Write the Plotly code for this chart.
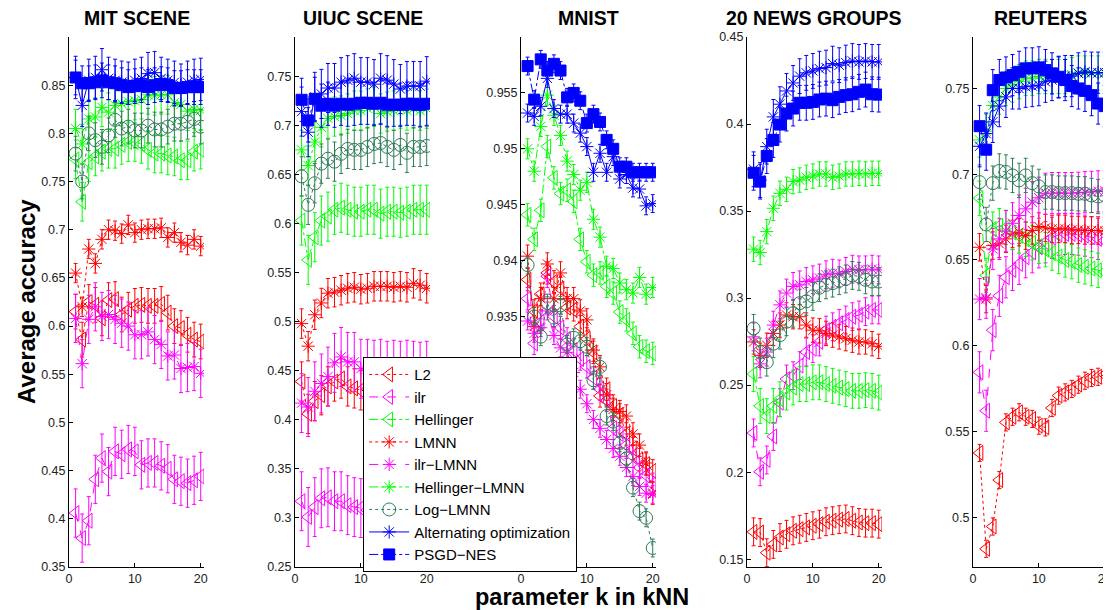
import plotly.graph_objects as go

K = [1, 2, 3, 4, 5, 6, 7, 8, 9, 10, 11, 12, 13, 14, 15, 16, 17, 18, 19, 20]

# ---------------- MIT SCENE ----------------
MIT_L2 = [0.615, 0.586, 0.625, 0.622, 0.608, 0.627, 0.628, 0.612, 0.617, 0.621, 0.622, 0.621, 0.621, 0.623, 0.614, 0.600, 0.598, 0.591, 0.586, 0.584]
MIT_ILR = [0.406, 0.380, 0.398, 0.441, 0.463, 0.449, 0.470, 0.467, 0.472, 0.470, 0.456, 0.458, 0.458, 0.455, 0.452, 0.441, 0.439, 0.437, 0.440, 0.444]
MIT_HEL = [0.773, 0.729, 0.770, 0.776, 0.781, 0.784, 0.784, 0.788, 0.791, 0.791, 0.789, 0.783, 0.779, 0.779, 0.777, 0.776, 0.772, 0.772, 0.781, 0.783]
MIT_LMNN = [0.655, 0.620, 0.680, 0.665, 0.690, 0.700, 0.699, 0.696, 0.705, 0.697, 0.700, 0.701, 0.701, 0.702, 0.692, 0.697, 0.687, 0.684, 0.690, 0.683]
MIT_ILRLMNN = [0.608, 0.561, 0.607, 0.620, 0.610, 0.612, 0.607, 0.603, 0.600, 0.591, 0.591, 0.594, 0.586, 0.581, 0.569, 0.570, 0.556, 0.557, 0.558, 0.551]
MIT_HELLMNN = [0.805, 0.789, 0.815, 0.817, 0.827, 0.822, 0.829, 0.831, 0.833, 0.834, 0.835, 0.840, 0.839, 0.840, 0.840, 0.832, 0.830, 0.823, 0.825, 0.824]
MIT_LOG = [0.779, 0.750, 0.800, 0.793, 0.786, 0.798, 0.814, 0.805, 0.807, 0.803, 0.803, 0.808, 0.804, 0.804, 0.807, 0.810, 0.810, 0.812, 0.815, 0.807]
MIT_ALT = [0.858, 0.829, 0.855, 0.858, 0.866, 0.857, 0.855, 0.853, 0.852, 0.855, 0.857, 0.862, 0.863, 0.857, 0.855, 0.853, 0.850, 0.853, 0.855, 0.856]
MIT_PSGD = [0.858, 0.852, 0.852, 0.853, 0.855, 0.853, 0.852, 0.850, 0.848, 0.849, 0.850, 0.848, 0.850, 0.851, 0.850, 0.847, 0.847, 0.848, 0.848, 0.848]
MIT_ERR = [0.018, 0.025, 0.02, 0.01, 0.025, 0.02, 0.018, 0.022, 0.018]
MIT_YTICKS = [0.35, 0.4, 0.45, 0.5, 0.55, 0.6, 0.65, 0.7, 0.75, 0.8, 0.85]
MIT_YLABELS = ["0.35", "0.4", "0.45", "0.5", "0.55", "0.6", "0.65", "0.7", "0.75", "0.8", "0.85"]
MIT_YRANGE = [0.35, 0.90]

# ---------------- UIUC SCENE ----------------
UIUC_L2 = [0.439, 0.406, 0.419, 0.425, 0.434, 0.439, 0.442, 0.434, 0.432, 0.430, 0.431, 0.433, 0.432, 0.434, 0.433, 0.432, 0.433, 0.434, 0.433, 0.434]
UIUC_ILR = [0.317, 0.301, 0.311, 0.320, 0.321, 0.317, 0.317, 0.313, 0.311, 0.310, 0.308, 0.307, 0.306, 0.306, 0.305, 0.305, 0.304, 0.304, 0.303, 0.304]
UIUC_HEL = [0.603, 0.563, 0.586, 0.603, 0.607, 0.614, 0.616, 0.614, 0.612, 0.612, 0.614, 0.614, 0.610, 0.612, 0.612, 0.611, 0.612, 0.614, 0.614, 0.614]
UIUC_LMNN = [0.498, 0.475, 0.507, 0.519, 0.529, 0.530, 0.532, 0.534, 0.535, 0.533, 0.534, 0.536, 0.536, 0.536, 0.535, 0.536, 0.535, 0.539, 0.537, 0.534]
UIUC_ILRLMNN = [0.417, 0.413, 0.429, 0.437, 0.444, 0.458, 0.464, 0.459, 0.459, 0.452, 0.452, 0.451, 0.452, 0.450, 0.451, 0.450, 0.451, 0.450, 0.449, 0.450]
UIUC_HELLMNN = [0.675, 0.659, 0.683, 0.698, 0.707, 0.709, 0.710, 0.712, 0.715, 0.715, 0.717, 0.719, 0.712, 0.714, 0.715, 0.717, 0.715, 0.717, 0.715, 0.717]
UIUC_LOG = [0.648, 0.619, 0.641, 0.661, 0.666, 0.663, 0.671, 0.676, 0.675, 0.675, 0.678, 0.681, 0.682, 0.678, 0.675, 0.680, 0.672, 0.678, 0.678, 0.679]
UIUC_ALT = [0.714, 0.693, 0.729, 0.732, 0.738, 0.738, 0.744, 0.746, 0.748, 0.744, 0.744, 0.742, 0.748, 0.746, 0.742, 0.737, 0.740, 0.740, 0.740, 0.745]
UIUC_PSGD = [0.726, 0.705, 0.727, 0.720, 0.722, 0.720, 0.722, 0.721, 0.722, 0.723, 0.723, 0.722, 0.723, 0.721, 0.721, 0.721, 0.722, 0.722, 0.721, 0.722]
UIUC_ERR = [0.02, 0.03, 0.025, 0.015, 0.03, 0.02, 0.02, 0.025, 0.022]
UIUC_YTICKS = [0.25, 0.3, 0.35, 0.4, 0.45, 0.5, 0.55, 0.6, 0.65, 0.7, 0.75]
UIUC_YLABELS = ["0.25", "0.3", "0.35", "0.4", "0.45", "0.5", "0.55", "0.6", "0.65", "0.7", "0.75"]
UIUC_YRANGE = [0.25, 0.79]

# ---------------- MNIST ----------------
MNIST_L2 = [0.9383, 0.9355, 0.9370, 0.9389, 0.9381, 0.9375, 0.9358, 0.9356, 0.9341, 0.9330, 0.9318, 0.9279, 0.9285, 0.9270, 0.9262, 0.9245, 0.9232, 0.9222, 0.9218, 0.9212]
MNIST_ILR = [0.9366, 0.9326, 0.9345, 0.9386, 0.9350, 0.9340, 0.9330, 0.9320, 0.9312, 0.9305, 0.9295, 0.9285, 0.9275, 0.9250, 0.9245, 0.9235, 0.9225, 0.9215, 0.9208, 0.9200]
MNIST_HEL = [0.9441, 0.9419, 0.9445, 0.9502, 0.9474, 0.9460, 0.9463, 0.9453, 0.9419, 0.9399, 0.9387, 0.9389, 0.9377, 0.9371, 0.9354, 0.9347, 0.9335, 0.9323, 0.9319, 0.9317]
MNIST_LMNN = [0.9404, 0.9341, 0.9366, 0.9397, 0.9366, 0.9389, 0.9366, 0.9366, 0.9355, 0.9347, 0.9320, 0.9305, 0.9280, 0.9267, 0.9265, 0.9261, 0.9245, 0.9235, 0.9219, 0.9192]
MNIST_ILRLMNN = [0.9346, 0.9335, 0.9340, 0.9355, 0.9333, 0.9322, 0.9318, 0.9300, 0.9285, 0.9272, 0.9258, 0.9250, 0.9240, 0.9232, 0.9225, 0.9215, 0.9207, 0.9198, 0.9192, 0.9191]
MNIST_HELLMNN = [0.9500, 0.9480, 0.9520, 0.9548, 0.9530, 0.9512, 0.9489, 0.9477, 0.9463, 0.9470, 0.9437, 0.9421, 0.9395, 0.9393, 0.9380, 0.9374, 0.9371, 0.9385, 0.9370, 0.9376]
MNIST_LOG = [0.9396, 0.9350, 0.9332, 0.9362, 0.9349, 0.9360, 0.9325, 0.9331, 0.9328, 0.9323, 0.9293, 0.9305, 0.9261, 0.9256, 0.9237, 0.9223, 0.9197, 0.9176, 0.9170, 0.9143]
MNIST_ALT = [0.9532, 0.9529, 0.9538, 0.9563, 0.9536, 0.9531, 0.9531, 0.9523, 0.9514, 0.9502, 0.9479, 0.9496, 0.9479, 0.9493, 0.9473, 0.9477, 0.9465, 0.9464, 0.9449, 0.9451]
MNIST_PSGD = [0.9574, 0.9544, 0.9580, 0.9570, 0.9576, 0.9570, 0.9546, 0.9550, 0.9543, 0.9523, 0.9531, 0.9524, 0.9508, 0.9500, 0.9484, 0.9484, 0.9479, 0.9479, 0.9479, 0.9479]
MNIST_ERR = [0.001, 0.001, 0.001, 0.001, 0.0008, 0.0009, 0.0008, 0.0008, 0.0008]
# lower ticks of this panel lie behind the legend in the reference, so only visible ones are listed
MNIST_YTICKS = [0.935, 0.94, 0.945, 0.95, 0.955]
MNIST_YLABELS = ["0.935", "0.94", "0.945", "0.95", "0.955"]
MNIST_YRANGE = [0.9126, 0.9600]

# ---------------- 20 NEWS GROUPS ----------------
NEWS_L2 = [0.1657, 0.1653, 0.1537, 0.1585, 0.1624, 0.1643, 0.1663, 0.1672, 0.1682, 0.1692, 0.1701, 0.1715, 0.1721, 0.1727, 0.1731, 0.1721, 0.1711, 0.1707, 0.1707, 0.1701]
NEWS_ILR = [0.2225, 0.2002, 0.2070, 0.2205, 0.2399, 0.2535, 0.2554, 0.2612, 0.2690, 0.2709, 0.2748, 0.2816, 0.2835, 0.2855, 0.2874, 0.2893, 0.2903, 0.2922, 0.2932, 0.2932]
NEWS_HEL = [0.2564, 0.2380, 0.2322, 0.2380, 0.2419, 0.2457, 0.2486, 0.2506, 0.2506, 0.2516, 0.2516, 0.2506, 0.2496, 0.2486, 0.2477, 0.2467, 0.2467, 0.2471, 0.2467, 0.2457]
NEWS_LMNN = [0.2748, 0.2671, 0.2729, 0.2797, 0.2845, 0.2903, 0.2893, 0.2893, 0.2845, 0.2816, 0.2812, 0.2797, 0.2787, 0.2777, 0.2767, 0.2758, 0.2748, 0.2748, 0.2738, 0.2723]
NEWS_ILRLMNN = [0.2777, 0.2622, 0.2690, 0.2845, 0.2961, 0.3029, 0.3067, 0.3076, 0.3095, 0.3105, 0.3115, 0.3134, 0.3143, 0.3139, 0.3153, 0.3166, 0.3162, 0.3162, 0.3166, 0.3162]
NEWS_HELLMNN = [0.3281, 0.3262, 0.3382, 0.3516, 0.3602, 0.3625, 0.3669, 0.3678, 0.3694, 0.3701, 0.3713, 0.3713, 0.3694, 0.3701, 0.3713, 0.3713, 0.3717, 0.3713, 0.3717, 0.3717]
NEWS_LOG = [0.2826, 0.2690, 0.2632, 0.2738, 0.2787, 0.2864, 0.2913, 0.2971, 0.2981, 0.3010, 0.3060, 0.3076, 0.3086, 0.3100, 0.3110, 0.3130, 0.3125, 0.3105, 0.3095, 0.3095]
NEWS_ALT = [0.3740, 0.3678, 0.3870, 0.4041, 0.4114, 0.4190, 0.4236, 0.4275, 0.4294, 0.4305, 0.4318, 0.4324, 0.4347, 0.4338, 0.4353, 0.4362, 0.4357, 0.4362, 0.4357, 0.4357]
NEWS_PSGD = [0.3720, 0.3669, 0.3816, 0.3908, 0.3997, 0.4060, 0.4089, 0.4122, 0.4122, 0.4127, 0.4141, 0.4146, 0.4137, 0.4156, 0.4166, 0.4171, 0.4185, 0.4198, 0.4171, 0.4169]
NEWS_ERR = [0.008, 0.008, 0.01, 0.007, 0.008, 0.007, 0.008, 0.01, 0.01]
NEWS_YTICKS = [0.15, 0.2, 0.25, 0.3, 0.35, 0.4, 0.45]
NEWS_YLABELS = ["0.15", "0.2", "0.25", "0.3", "0.35", "0.4", "0.45"]
NEWS_YRANGE = [0.1455, 0.45]

# ---------------- REUTERS ----------------
REU_L2 = [0.5375, 0.4816, 0.4946, 0.5217, 0.5553, 0.5586, 0.5612, 0.5586, 0.5573, 0.5534, 0.5524, 0.5637, 0.5709, 0.5728, 0.5748, 0.5773, 0.5796, 0.5812, 0.5819, 0.5831]
REU_ILR = [0.5845, 0.5621, 0.6091, 0.6291, 0.6399, 0.6442, 0.6477, 0.6516, 0.6545, 0.6574, 0.6603, 0.6629, 0.6648, 0.6652, 0.6652, 0.6648, 0.6642, 0.6633, 0.6623, 0.6613]
REU_HEL = [0.686, 0.641, 0.668, 0.670, 0.669, 0.666, 0.664, 0.662, 0.660, 0.658, 0.656, 0.654, 0.652, 0.650, 0.649, 0.647, 0.646, 0.645, 0.644, 0.643]
REU_LMNN = [0.6574, 0.6272, 0.6584, 0.6594, 0.6623, 0.6652, 0.6662, 0.6642, 0.6672, 0.6695, 0.6687, 0.6681, 0.6681, 0.6681, 0.6675, 0.6675, 0.6672, 0.6672, 0.6672, 0.6668]
REU_ILRLMNN = [0.6272, 0.6280, 0.6564, 0.6623, 0.6668, 0.6714, 0.6759, 0.6798, 0.6837, 0.6863, 0.6886, 0.6890, 0.6890, 0.6890, 0.6890, 0.6892, 0.6895, 0.6897, 0.6900, 0.6902]
REU_HELLMNN = [0.720, 0.725, 0.740, 0.745, 0.750, 0.752, 0.754, 0.756, 0.756, 0.757, 0.757, 0.757, 0.757, 0.757, 0.758, 0.759, 0.759, 0.759, 0.759, 0.759]
REU_LOG = [0.6954, 0.6707, 0.6948, 0.7019, 0.7013, 0.6993, 0.6964, 0.6993, 0.6948, 0.6929, 0.6896, 0.6896, 0.6890, 0.6890, 0.6890, 0.6886, 0.6886, 0.6876, 0.6870, 0.6876]
REU_ALT = [0.7163, 0.7237, 0.7305, 0.7397, 0.7451, 0.7500, 0.7500, 0.7510, 0.7514, 0.7519, 0.7539, 0.7549, 0.7564, 0.7572, 0.7572, 0.7588, 0.7597, 0.7592, 0.7592, 0.7592]
REU_PSGD = [0.7280, 0.7143, 0.7490, 0.7549, 0.7564, 0.7578, 0.7597, 0.7617, 0.7617, 0.7623, 0.7607, 0.7588, 0.7568, 0.7549, 0.7514, 0.7500, 0.7486, 0.7461, 0.7412, 0.7397]
REU_ERR = [0.005, 0.012, 0.01, 0.008, 0.012, 0.01, 0.01, 0.012, 0.012]
REU_YTICKS = [0.5, 0.55, 0.6, 0.65, 0.7, 0.75]
REU_YLABELS = ["0.5", "0.55", "0.6", "0.65", "0.7", "0.75"]
REU_YRANGE = [0.471, 0.78]

TITLES = ["MIT SCENE", "UIUC SCENE", "MNIST", "20 NEWS GROUPS", "REUTERS"]
NAMES = ["L2", "ilr", "Hellinger", "LMNN", "ilr\u2212LMNN", "Hellinger\u2212LMNN",
         "Log\u2212LMNN", "Alternating optimization", "PSGD\u2212NES"]
XTICKS = [0, 10, 20]
XLABELS = ["0", "10", "20"]

# styles
COLORS = ["#ff0000", "#ff00ff", "#00ff00", "#ff0000", "#ff00ff", "#00ff00",
          "#2e7d57", "#0000ff", "#0000ff"]
DASHES = ["dot", "dash", "dashdot", "dot", "dash", "dashdot", "dot", "solid", "dashdot"]
SYMBOLS = ["triangle-left-open", "triangle-left-open", "triangle-left-open",
           "asterisk", "asterisk", "asterisk", "circle-open", "asterisk", "square"]
SIZES = [13, 13, 13, 11, 11, 11, 13, 11, 11]

PANELS = [
    ([MIT_L2, MIT_ILR, MIT_HEL, MIT_LMNN, MIT_ILRLMNN, MIT_HELLMNN, MIT_LOG, MIT_ALT, MIT_PSGD],
     MIT_ERR, MIT_YRANGE, MIT_YTICKS, MIT_YLABELS),
    ([UIUC_L2, UIUC_ILR, UIUC_HEL, UIUC_LMNN, UIUC_ILRLMNN, UIUC_HELLMNN, UIUC_LOG, UIUC_ALT, UIUC_PSGD],
     UIUC_ERR, UIUC_YRANGE, UIUC_YTICKS, UIUC_YLABELS),
    ([MNIST_L2, MNIST_ILR, MNIST_HEL, MNIST_LMNN, MNIST_ILRLMNN, MNIST_HELLMNN, MNIST_LOG, MNIST_ALT, MNIST_PSGD],
     MNIST_ERR, MNIST_YRANGE, MNIST_YTICKS, MNIST_YLABELS),
    ([NEWS_L2, NEWS_ILR, NEWS_HEL, NEWS_LMNN, NEWS_ILRLMNN, NEWS_HELLMNN, NEWS_LOG, NEWS_ALT, NEWS_PSGD],
     NEWS_ERR, NEWS_YRANGE, NEWS_YTICKS, NEWS_YLABELS),
    ([REU_L2, REU_ILR, REU_HEL, REU_LMNN, REU_ILRLMNN, REU_HELLMNN, REU_LOG, REU_ALT, REU_PSGD],
     REU_ERR, REU_YRANGE, REU_YTICKS, REU_YLABELS),
]

# The page body adds an 8px margin, so the figure is placed at (8, 8) in the window.
OFF = 8
W, H = 1111 - OFF, 610 - OFF
PANEL_LEFT_PX = [69, 295, 521, 747, 973]   # window pixels
PANEL_W_PX = 135
Y_TOP_PX, Y_BOT_PX = 37, 567
FONT = "Liberation Sans, Arial, Helvetica, sans-serif"


def fx(px):
    return (px - OFF) / W


def fy(py):
    return 1 - (py - OFF) / H


fig = go.Figure()
layout = dict(
    width=W, height=H,
    margin=dict(l=0, r=0, t=0, b=0, autoexpand=False),
    paper_bgcolor="white", plot_bgcolor="white",
    font=dict(family=FONT, size=12, color="#222222"),
    showlegend=True,
    legend=dict(
        x=fx(363), y=fy(357), xanchor="left", yanchor="top",
        bgcolor="white", bordercolor="black", borderwidth=1.2,
        font=dict(family=FONT, size=15, color="black"),
        itemwidth=40, tracegroupgap=0,
    ),
    annotations=[],
)

ydom = [fy(Y_BOT_PX), fy(Y_TOP_PX)]
for p, (series, errs, yr, ytv, ytt) in enumerate(PANELS):
    ax = "" if p == 0 else str(p + 1)
    x0 = fx(PANEL_LEFT_PX[p])
    x1 = min(fx(PANEL_LEFT_PX[p] + PANEL_W_PX), 1.0)
    for s, ys in enumerate(series):
        c = COLORS[s]
        marker = dict(symbol=SYMBOLS[s], size=SIZES[s], color=c,
                      line=dict(color=c, width=1))
        fig.add_trace(go.Scatter(
            x=K, y=ys, mode="lines+markers", name=NAMES[s],
            legendgroup=NAMES[s], showlegend=(p == 0),
            line=dict(color=c, width=1, dash=DASHES[s]),
            marker=marker,
            error_y=dict(type="constant", value=errs[s], color=c, thickness=1, width=2),
            xaxis="x" + ax, yaxis="y" + ax,
        ))
    layout["xaxis" + ax] = dict(
        domain=[x0, x1], anchor="y" + ax, range=[0, 20.5], automargin=False,
        tickvals=XTICKS, ticktext=XLABELS, ticks="inside", ticklen=4,
        ticklabeloverflow="allow",
        tickcolor="black", showline=True, linecolor="black", linewidth=1,
        showgrid=False, zeroline=False, tickfont=dict(size=12.5, color="#222222"),
    )
    layout["yaxis" + ax] = dict(
        domain=ydom, anchor="x" + ax, range=yr, automargin=False,
        tickvals=ytv, ticktext=ytt, ticks="inside", ticklen=4,
        ticklabeloverflow="allow",
        tickcolor="black", showline=True, linecolor="black", linewidth=1,
        showgrid=False, zeroline=False, tickfont=dict(size=12.5, color="#222222"),
    )
    layout["annotations"].append(dict(
        text=TITLES[p], xref="paper", yref="paper",
        x=fx(PANEL_LEFT_PX[p] + PANEL_W_PX / 2), y=fy(18),
        xanchor="center", yanchor="middle", showarrow=False,
        font=dict(family=FONT, size=19.5, color="black", weight="bold"),
    ))

layout["annotations"].append(dict(
    text="Average accuracy", xref="paper", yref="paper",
    x=fx(26), y=fy(302), xanchor="center", yanchor="middle",
    textangle=-90, showarrow=False,
    font=dict(family=FONT, size=24, color="black", weight="bold"),
))
layout["annotations"].append(dict(
    text="parameter k in kNN", xref="paper", yref="paper",
    x=fx(582), y=fy(597), xanchor="center", yanchor="middle",
    showarrow=False,
    font=dict(family=FONT, size=23.5, color="black", weight="bold"),
))

fig.update_layout(**layout)
fig.write_html("out.html")
